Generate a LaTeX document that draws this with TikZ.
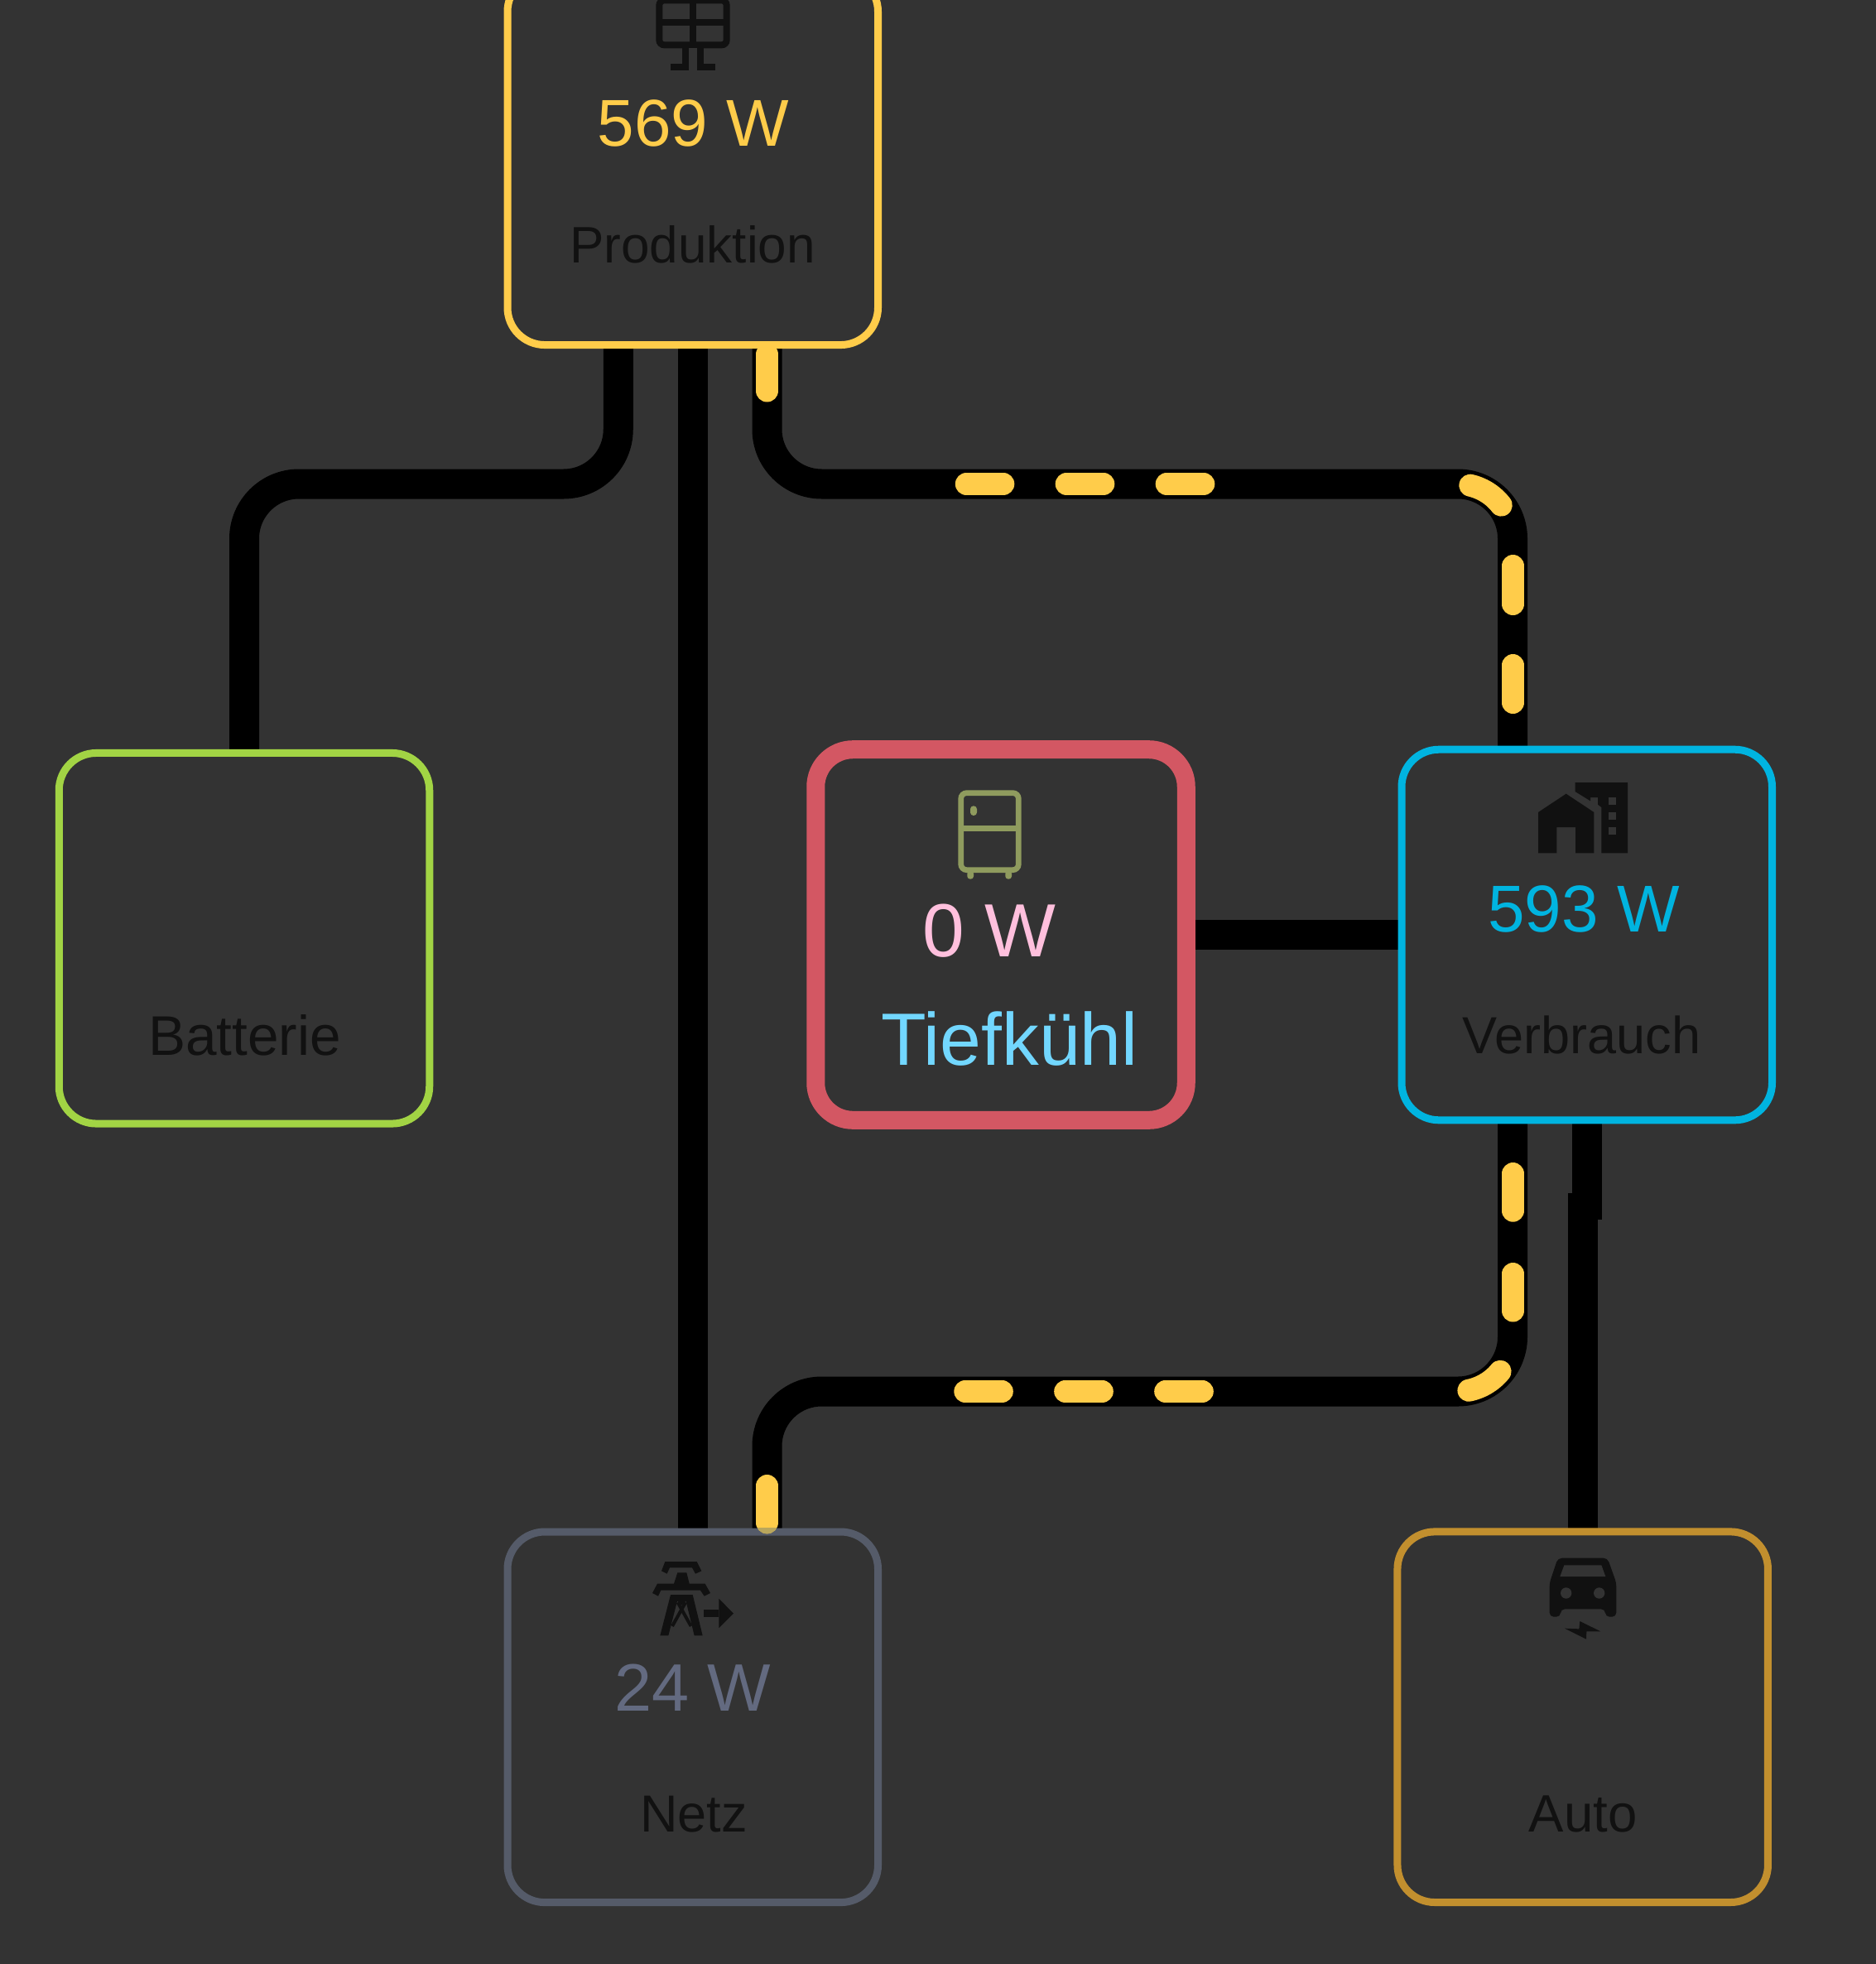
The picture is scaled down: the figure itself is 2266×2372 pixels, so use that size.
\documentclass[tikz,border=0pt]{standalone}
\usepackage{fontspec}
\setmainfont{Liberation Sans}
\usetikzlibrary{backgrounds}
\definecolor{pagebg}{HTML}{333333}
\definecolor{ink}{HTML}{111111}
\definecolor{flow}{HTML}{FFCC4A}
\definecolor{flowblend}{HTML}{B9A65C}
\definecolor{cbatt}{HTML}{A2D444}
\definecolor{cnetz}{HTML}{555B69}
\definecolor{cnetztext}{HTML}{636A80}
\definecolor{cauto}{HTML}{C28F2E}
\definecolor{cverb}{HTML}{00B4E0}
\definecolor{cfreeze}{HTML}{D35763}
\definecolor{cfridge}{HTML}{8F9B5E}
\definecolor{czero}{HTML}{FFC0DD}
\definecolor{cfreezetext}{HTML}{72D7FF}
\tikzset{
  box/.style={draw, rectangle, rounded corners=45pt, line width=9pt, outer sep=0pt, inner sep=0pt,
    minimum width=447.5pt, minimum height=447.6pt},
  wire/.style={draw=black, line width=36pt, line cap=butt},
  pulse/.style={draw=flow, line width=27pt, line cap=round},
  watt/.style={anchor=base, inner sep=0pt, outer sep=0pt, font=\fontsize{80}{96}\selectfont},
  caption/.style={anchor=base, inner sep=0pt, outer sep=0pt, text=ink, font=\fontsize{62}{72}\selectfont},
  icon/.style={fill=ink, draw=none},
  hole/.style={fill=pagebg, draw=none},
}
\begin{document}
\begin{tikzpicture}[x=1pt,y=-1pt]
\path[use as bounding box] (0,0) rectangle (2266,2372);

% boxes
\node[box, draw=flow]    (prod)   at (836.75,192.75) {};
\node[box, draw=cbatt]   (batt)   at (295,1133.25) {};
\node[box, draw=cfreeze, line width=22pt] (freeze) at (1209,1129) {};
\node[box, draw=cverb]   (verb)   at (1916.75,1129) {};
\node[box, draw=cnetz]   (netz)   at (836.75,2073.8) {};
\node[box, draw=cauto]   (auto)   at (1911.7,2073.7) {};

% connector helpers
\coordinate (topbus) at (1000,584.5);
\coordinate (lowbus) at (1000,1680.5);
\coordinate (prodL) at ([xshift=-90pt]prod.south);
\coordinate (prodR) at ([xshift=89.75pt]prod.south);
\coordinate (verbTL) at ([xshift=-89.75pt]verb.north);
\coordinate (verbBL) at ([xshift=-89.75pt]verb.south);
\coordinate (netzR) at ([xshift=89.75pt]netz.north);
\coordinate (verbJog) at ([yshift=-120pt]verb.south);
\coordinate (autoJog) at ([yshift=408.5pt]auto.north);

\begin{scope}[on background layer]
  \fill[pagebg] (0,0) rectangle (2266,2372);
  \draw[wire, rounded corners=66pt] (prodL) -- (prodL |- topbus) -- (batt.north |- topbus) -- (batt.north);
  \draw[wire] (prod.south) -- (netz.north);
  \draw[wire, rounded corners=66pt] (prodR) -- (prodR |- topbus) -- (verbTL |- topbus) -- (verbTL);
  \draw[wire] (freeze.east) -- (verb.west);
  \draw[wire, rounded corners=66pt] (verbBL) -- (verbBL |- lowbus) -- (netzR |- lowbus) -- (netzR);
  \draw[wire] (verb.south) -- (verbJog);
  \draw[wire] (auto.north) -- (autoJog);
\end{scope}

% moving pulses, upper flow
\draw[pulse] (926.5,428) -- (926.5,472);
\draw[pulse] (1167.3,584.5) -- (1211.8,584.5);
\draw[pulse] (1288.2,584.5) -- (1332.8,584.5);
\draw[pulse] (1409.2,584.5) -- (1453.8,584.5);
\draw[pulse] plot[domain=77:37.7,samples=24,smooth] ({1761+66*cos(\x)},{650.5-66*sin(\x)});
\draw[pulse] (1827.5,683.5) -- (1827.5,729.5);
\draw[pulse] (1827.5,803.5) -- (1827.5,848.5);
% moving pulses, lower flow
\draw[pulse] (1827.5,1417.5) -- (1827.5,1462.2);
\draw[pulse] (1827.5,1538.5) -- (1827.5,1583);
\draw[pulse] plot[domain=39.3:78.7,samples=24,smooth] ({1761+66*cos(\x)},{1614.5+66*sin(\x)});
\draw[pulse] (1452.3,1680.5) -- (1407.7,1680.5);
\draw[pulse] (1331.3,1680.5) -- (1286.7,1680.5);
\draw[pulse] (1210.3,1680.5) -- (1165.8,1680.5);
\draw[pulse] (926.5,1794.5) -- (926.5,1838.8);
\begin{scope}
  \clip (900,1845.3) rectangle (950,1854.3);
  \draw[pulse, draw=flowblend] (926.5,1794.5) -- (926.5,1838.8);
\end{scope}

% texts
\node[watt, text=flow] (prodW) at (837.5,176.7) {569 W};
\node[caption] (prodT) at (836.7,317.3) {Produktion};
\node[caption, font=\fontsize{67.5}{78}\selectfont] (battT) at (295.5,1274) {Batterie};
\node[watt, font=\fontsize{91}{108}\selectfont, text=czero] (freezeW) at (1195,1155.5) {0 W};
\node[anchor=base, inner sep=0pt, font=\fontsize{89.5}{108}\selectfont, text=cfreezetext] (freezeT) at (1219.5,1286) {Tiefkühl};
\node[watt, text=cverb] (verbW) at (1913,1125.5) {593 W};
\node[caption, font=\fontsize{63}{72}\selectfont] (verbT) at (1910.5,1272) {Verbrauch};
\node[watt, font=\fontsize{81}{96}\selectfont, text=cnetztext] (netzW) at (836.7,2066.7) {24 W};
\node[caption, font=\fontsize{63}{72}\selectfont] (netzT) at (838,2212.7) {Netz};
\node[caption, font=\fontsize{63.5}{72}\selectfont] (autoT) at (1912,2212.7) {Auto};

% solar panel icon
\begin{scope}[shift={(600,0)},scale=1/3]
  \draw[draw=ink, line width=8pt, rounded corners=6pt] (589,1) rectangle (833,163);
  \draw[draw=ink, line width=8pt] (589,82) -- (833,82);
  \draw[draw=ink, line width=8pt] (710,1) -- (710,163);
  \fill[icon] (672,163) rectangle (697,255);
  \fill[icon] (725,163) rectangle (750,255);
  \fill[icon] (630,230) rectangle (697,255);
  \fill[icon] (725,230) rectangle (792,255);
  \fill[hole] (697,175) rectangle (725,255);
\end{scope}

% fridge icon
\begin{scope}[shift={(1100,880)},scale=1/3]
  \draw[draw=cfridge, line width=6.7pt, rounded corners=7pt] (182,233) rectangle (391,512);
  \draw[draw=cfridge, line width=6.7pt] (182,361) -- (391,361);
  \fill[cfridge, rounded corners=3.8pt] (216,280) rectangle (240,315);
  \fill[cfridge, rounded corners=3.4pt] (205,515) rectangle (228,545);
  \fill[cfridge, rounded corners=3.4pt] (343,515) rectangle (366,545);
\end{scope}

% house and building icon
\begin{scope}[shift={(1750,880)},scale=1/3]
  \fill[icon] (458,195) -- (648,195) -- (648,451) -- (553,451) -- (553,285) -- (540,275) -- (540,249)
     -- (513,249) -- (513,262) -- (458,228) -- cycle;
  \fill[hole] (580,250) rectangle (607,277);
  \fill[hole] (580,304) rectangle (607,330);
  \fill[hole] (580,358) rectangle (607,384);
  \fill[icon] (324,303) -- (425,236) -- (526,303) -- (526,451) -- (459,451) -- (459,357) -- (391,357)
     -- (391,451) -- (324,451) -- cycle;
\end{scope}

% pylon icon
\begin{scope}[shift={(740,1860)},scale=1/3]
  \fill[icon] (190,78) -- (305,78) -- (322,112) -- (300,122) -- (288,100) -- (207,100) -- (197,122) -- (177,112) -- cycle;
  \fill[icon] (235,118) -- (268,118) -- (278,158) -- (335,158) -- (354,192) -- (332,203) -- (318,182)
     -- (175,182) -- (165,203) -- (144,192) -- (162,158) -- (222,158) -- cycle;
  \fill[icon] (210,198) -- (240,198) -- (202,346) -- (172,346) -- cycle;
  \fill[icon] (260,198) -- (290,198) -- (326,346) -- (296,346) -- cycle;
  \fill[icon] (232,198) -- (268,198) -- (268,218) -- (250,236) -- (232,218) -- cycle;
  \draw[draw=ink, line width=4pt] (236,226) -- (284,312);
  \draw[draw=ink, line width=4pt] (264,226) -- (216,312);
  \fill[icon] (331,252) rectangle (385,279);
  \fill[icon] (385,212) -- (438,266) -- (385,319) -- cycle;
\end{scope}

% car icon
\begin{scope}[shift={(1840,1860)},scale=1/3]
  \fill[icon, rounded corners=5pt] (95,155) -- (125,65) -- (305,65) -- (337,155) -- (337,278) -- (297,278)
     -- (297,250) -- (135,250) -- (135,278) -- (95,278) -- cycle;
  \fill[hole] (148,91) -- (283,91) -- (298,132) -- (133,132) -- cycle;
  \fill[hole] (155,192) circle[radius=20];
  \fill[hole] (275,192) circle[radius=20];
  \fill[icon] (150,320) -- (202,322) -- (205,294) -- (280,331) -- (229,331) -- (228,359) -- cycle;
\end{scope}
\end{tikzpicture}
\end{document}
